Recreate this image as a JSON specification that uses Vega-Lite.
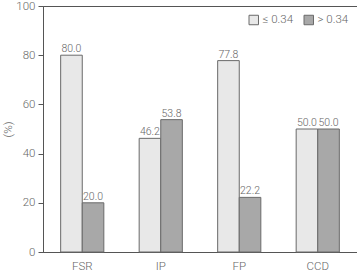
{
  "$schema": "https://vega.github.io/schema/vega-lite/v6.json",
  "width": 314,
  "height": 246,
  "autosize": {"type": "none"},
  "padding": {"left": 43, "top": 6, "right": 0, "bottom": 20},
  "background": "white",
  "config": {
    "font": "Roboto",
    "view": {"stroke": "#555555", "strokeWidth": 1},
    "axis": {"labelColor": "#666666", "labelFontSize": 11.5, "labelFont": "Roboto", "labelFontWeight": 300, "domainColor": "#555555", "tickColor": "#555555", "grid": false, "titleColor": "#666666", "titleFontWeight": 300, "titleFont": "Roboto"}
  },
  "data": {"values": [
    {"cat": "FSR", "grp": "≤ 0.34", "v": 80.0},
    {"cat": "FSR", "grp": "> 0.34", "v": 20.0},
    {"cat": "IP", "grp": "≤ 0.34", "v": 46.2},
    {"cat": "IP", "grp": "> 0.34", "v": 53.8},
    {"cat": "FP", "grp": "≤ 0.34", "v": 77.8},
    {"cat": "FP", "grp": "> 0.34", "v": 22.2},
    {"cat": "CCD", "grp": "≤ 0.34", "v": 50.0},
    {"cat": "CCD", "grp": "> 0.34", "v": 50.0}
  ]},
  "encoding": {
    "x": {"field": "cat", "type": "nominal", "sort": ["FSR", "IP", "FP", "CCD"],
      "scale": {"paddingInner": 0.45, "paddingOuter": 0.225},
      "axis": {"title": null, "labelAngle": 0, "ticks": false, "domain": true, "labelPadding": 8}},
    "xOffset": {"field": "grp", "type": "nominal", "sort": ["≤ 0.34", "> 0.34"]},
    "y": {"field": "v", "type": "quantitative", "scale": {"domain": [0, 100]},
      "axis": {"title": "(%)", "values": [0, 20, 40, 60, 80, 100], "tickSize": 5, "labelPadding": 3, "titleX": -30, "titleFontSize": 11.5}}
  },
  "layer": [
    {
      "mark": {"type": "bar", "stroke": "#6a6a6a", "strokeWidth": 1},
      "encoding": {
        "fill": {"field": "grp", "type": "nominal", "sort": ["≤ 0.34", "> 0.34"],
          "scale": {"domain": ["≤ 0.34", "> 0.34"], "range": ["#e8e8e8", "#a8a8a8"]},
          "legend": {"title": null, "orient": "none", "legendX": 205, "legendY": 8, "direction": "horizontal",
            "symbolType": "square", "symbolSize": 90, "symbolStrokeColor": "#6a6a6a", "symbolStrokeWidth": 1,
            "labelFontSize": 11.5, "labelColor": "#666666", "labelFont": "Roboto", "labelFontWeight": 300, "columnPadding": 8, "labelOffset": 3}}
      }
    },
    {
      "mark": {"type": "text", "baseline": "bottom", "dy": -1, "fontSize": 10.5, "fill": "#666666", "color": "#666666", "font": "Roboto", "fontWeight": 300},
      "encoding": {"text": {"field": "v", "type": "quantitative", "format": ".1f"}}
    }
  ]
}
